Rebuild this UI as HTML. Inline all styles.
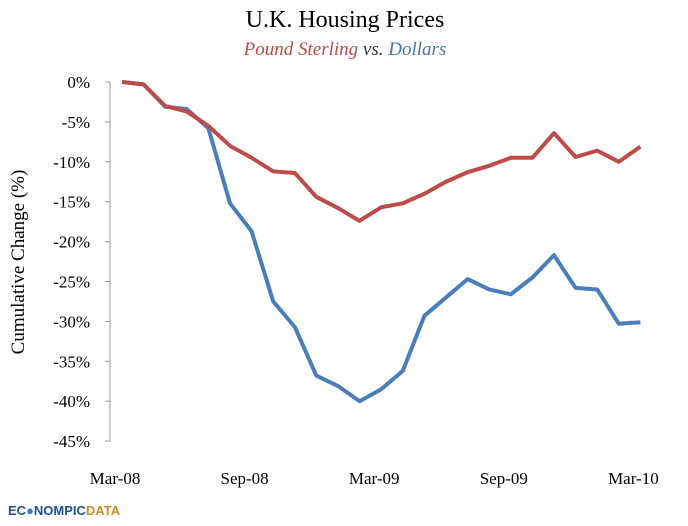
<!DOCTYPE html>
<html><head><meta charset="utf-8"><style>
body{margin:0;background:#fff;width:688px;height:521px;overflow:hidden;font-family:"Liberation Serif",serif}
</style></head><body>
<svg width="688" height="521" font-family="Liberation Serif, serif">
<text x="345" y="27" text-anchor="middle" font-size="24">U.K. Housing Prices</text>
<text x="345" y="55" text-anchor="middle" font-size="19" font-style="italic"><tspan fill="#b84a4a">Pound Sterling</tspan><tspan fill="#333"> vs. </tspan><tspan fill="#4a73a8">Dollars</tspan></text>
<text transform="translate(24,262) rotate(-90)" text-anchor="middle" font-size="19">Cumulative Change (%)</text>
<g id="axes"></g>
<g id="series"></g>
<g>
<text x="8" y="515" font-size="13" font-weight="bold" font-family="Liberation Sans, sans-serif" fill="#1f4f8f">EC<tspan fill="#3a7bc8">●</tspan>NOMPIC<tspan fill="#d08a20">DATA</tspan></text>
</g>
</svg>
<script>
const categories=["Mar-08","Apr-08","May-08","Jun-08","Jul-08","Aug-08","Sep-08","Oct-08","Nov-08","Dec-08","Jan-09","Feb-09","Mar-09","Apr-09","May-09","Jun-09","Jul-09","Aug-09","Sep-09","Oct-09","Nov-09","Dec-09","Jan-10","Feb-10","Mar-10"];
const poundValues=[0,-0.3,-3,-3.7,-5.5,-8,-9.5,-11.2,-11.4,-14.4,-15.8,-17.4,-15.7,-15.2,-14,-12.5,-11.3,-10.5,-9.5,-9.5,-6.4,-9.4,-8.6,-10,-8.1];
const dollarValues=[0,-0.3,-3.1,-3.4,-5.8,-15.2,-18.7,-27.5,-30.7,-36.8,-38.1,-40,-38.5,-36.2,-29.3,-27,-24.7,-26,-26.6,-24.5,-21.7,-25.8,-26,-30.3,-30.1];
const yTicks=[0,-5,-10,-15,-20,-25,-30,-35,-40,-45];
const xTickLabels=["Mar-08","Sep-08","Mar-09","Sep-09","Mar-10"];
const xTickIndex=[0,6,12,18,24];
const NS="http://www.w3.org/2000/svg";
const X0=122,DX=21.6,Y0=82,YS=7.98;
const xS=i=>X0+i*DX, yS=v=>Y0-v*YS;
function mk(t,a,p){const e=document.createElementNS(NS,t);for(const k in a)e.setAttribute(k,a[k]);p.appendChild(e);return e;}
const ax=document.getElementById('axes');
const yl=mk('line',{x1:110,x2:110,y1:yS(0),y2:yS(-45),stroke:'#999'},ax);


yTicks.forEach(v=>{
 const tk=mk('line',{x1:105,x2:110,y1:yS(v),y2:yS(v),stroke:'#999'},ax);
 
 
 const t=mk('text',{x:90,y:yS(v)+6,'text-anchor':'end','font-size':17},ax);
 t.textContent=v+'%';
 
 
});
xTickLabels.forEach((l,k)=>{
 const t=mk('text',{x:xS(xTickIndex[k])-7,y:484,'text-anchor':'middle','font-size':17},ax);
 t.textContent=l;
 
 
});
const sg=document.getElementById('series');
function line(vals,color,name){
 const p=mk('polyline',{points:vals.map((v,i)=>xS(i)+','+yS(v)).join(' '),fill:'none',stroke:color,'stroke-width':4,'stroke-linejoin':'round'},sg);
 
 
}
line(dollarValues,'#4a7ebb','dollars-line');
line(poundValues,'#be4b48','pound-sterling-line');
</script>
</body></html>
